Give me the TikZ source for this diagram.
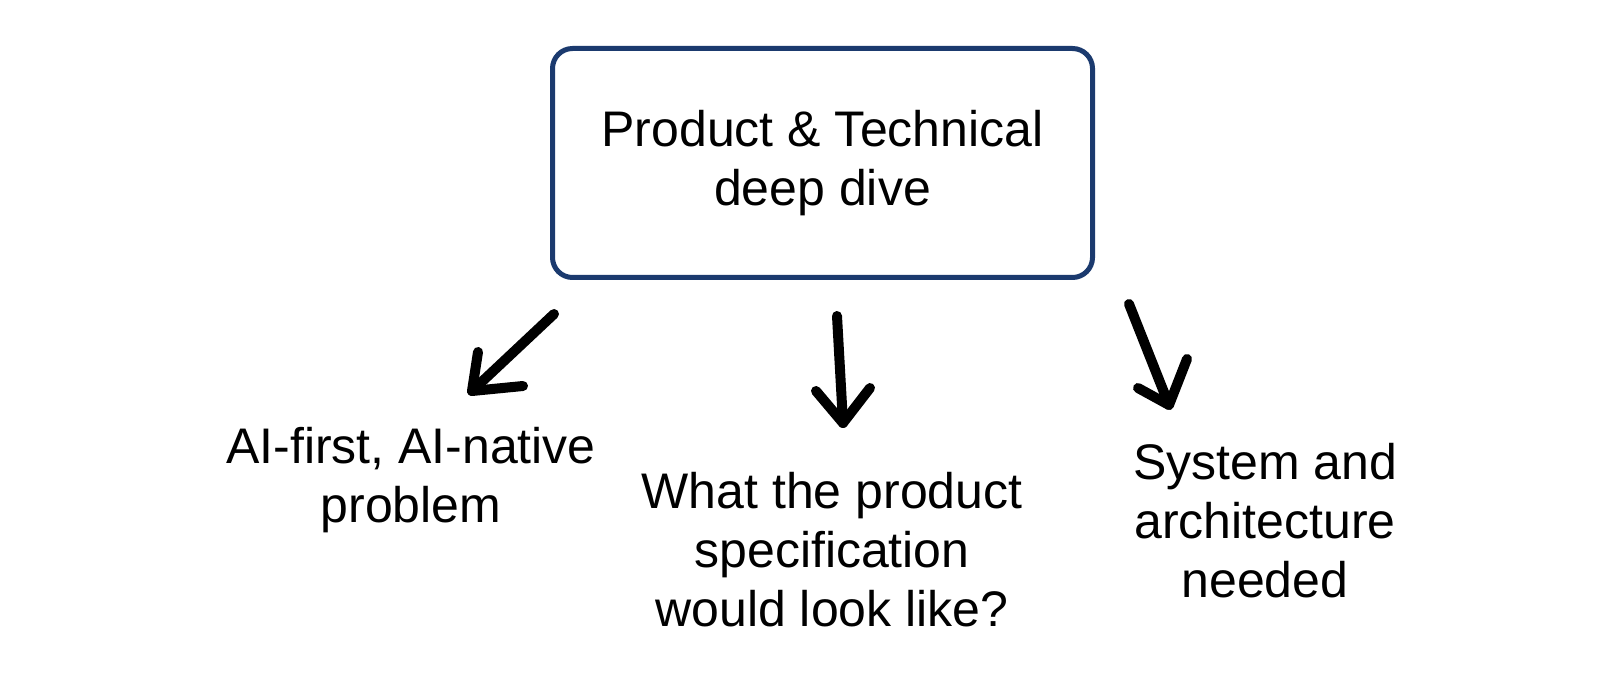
\documentclass[tikz,border=0pt]{standalone}
\usepackage{fontspec}
\setmainfont{Liberation Sans}
\definecolor{navy}{HTML}{1B3A6E}
\begin{document}
\begin{tikzpicture}[x=0.5pt,y=-0.5pt,
  txt/.style={align=center, font=\fontsize{25}{29.5}\selectfont, inner sep=0pt},
  arr/.style={line width=5pt, line cap=round, line join=round, black}]
\useasboundingbox (0,0) rectangle (1600,683);
\node[draw=navy, line width=2.5pt, rounded corners=10pt, minimum width=270pt, minimum height=114.5pt, txt] (box) at (822.5,163) {Product \& Technical\\deep dive};
\node[txt] (t1) at (411,480) {AI-first, AI-native\\problem};
\node[txt] (t2) at (832,550) {What the product\\specification\\would look like?};
\node[txt] (t3) at (1265,521) {System and\\architecture\\needed};
% left arrow
\coordinate (a1s) at (554,314); \coordinate (a1t) at (472,391);
\coordinate (a1b) at (478,352); \coordinate (a1c) at (523,386);
\draw[arr] (a1s) -- (a1t);
\draw[arr] (a1b) -- (a1t) -- (a1c);
% middle arrow
\coordinate (a2s) at (837,316); \coordinate (a2t) at (843,423);
\coordinate (a2b) at (816,391); \coordinate (a2c) at (870,388);
\draw[arr] (a2s) -- (a2t);
\draw[arr] (a2b) -- (a2t) -- (a2c);
% right arrow
\coordinate (a3s) at (1129,304); \coordinate (a3t) at (1169,405);
\coordinate (a3b) at (1138,388); \coordinate (a3c) at (1187,359);
\draw[arr] (a3s) -- (a3t);
\draw[arr] (a3b) -- (a3t) -- (a3c);
\end{tikzpicture}
\end{document}
